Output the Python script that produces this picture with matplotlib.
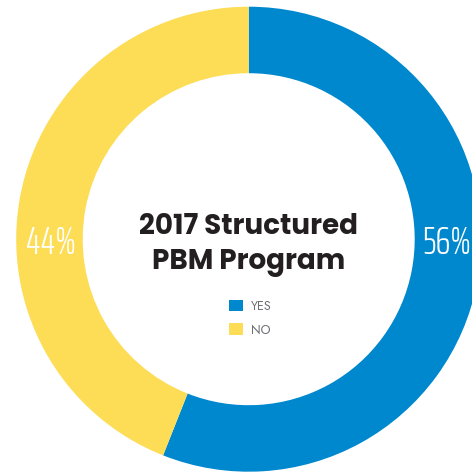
import matplotlib.pyplot as plt
from matplotlib.patches import Patch

labels = ["YES", "NO"]
values = [56, 44]
pct_labels = ["56%", "44%"]
colors = ["#0088CE", "#FDDC56"]
title = "2017 Structured\nPBM Program"

fig = plt.figure(figsize=(4.72, 4.72), dpi=100)
fig.patch.set_facecolor("w")
ax = fig.add_axes([0, 0, 1, 1])

cx, cy = 248.7, 472 - 239.2
r_out, r_in = 232.5, 166.0
wedges, _ = ax.pie(values, colors=colors, startangle=90, counterclock=False,
                   radius=r_out, center=(cx, cy),
                   wedgeprops=dict(width=r_out - r_in, linewidth=0))
ax.set_xlim(0, 472)
ax.set_ylim(0, 472)
ax.set_aspect("equal")
ax.axis("off")

# percent labels sit level with the centre, in the middle of the ring
r_mid = (r_out + r_in) / 2
for lab, side in zip(pct_labels, [1, -1]):
    ax.text(cx + side * r_mid - side * 1, cy - 4, lab, ha="center", va="center",
            color="w", fontsize=27.5, fontweight=300,
            family=["Saira ExtraCondensed", "DejaVu Sans"])

ax.text(cx, cy - 5.5, title, ha="center", va="center", fontsize=20,
        fontweight="bold", color="#231F20", linespacing=1.28,
        family=["Poppins", "DejaVu Sans"])

handles = [Patch(facecolor=c, edgecolor="none") for c in colors]
leg = ax.legend(handles, labels, loc="center", bbox_to_anchor=(cx + 2, 472 - 318),
                bbox_transform=ax.transData, frameon=False,
                prop=dict(family=["Jost", "DejaVu Sans"], size=9),
                handlelength=1.05, handleheight=1.05, handletextpad=0.7,
                labelspacing=0.85)
for t in leg.get_texts():
    t.set_color("#6D6E71")

fig.savefig("out.png", dpi=100)
